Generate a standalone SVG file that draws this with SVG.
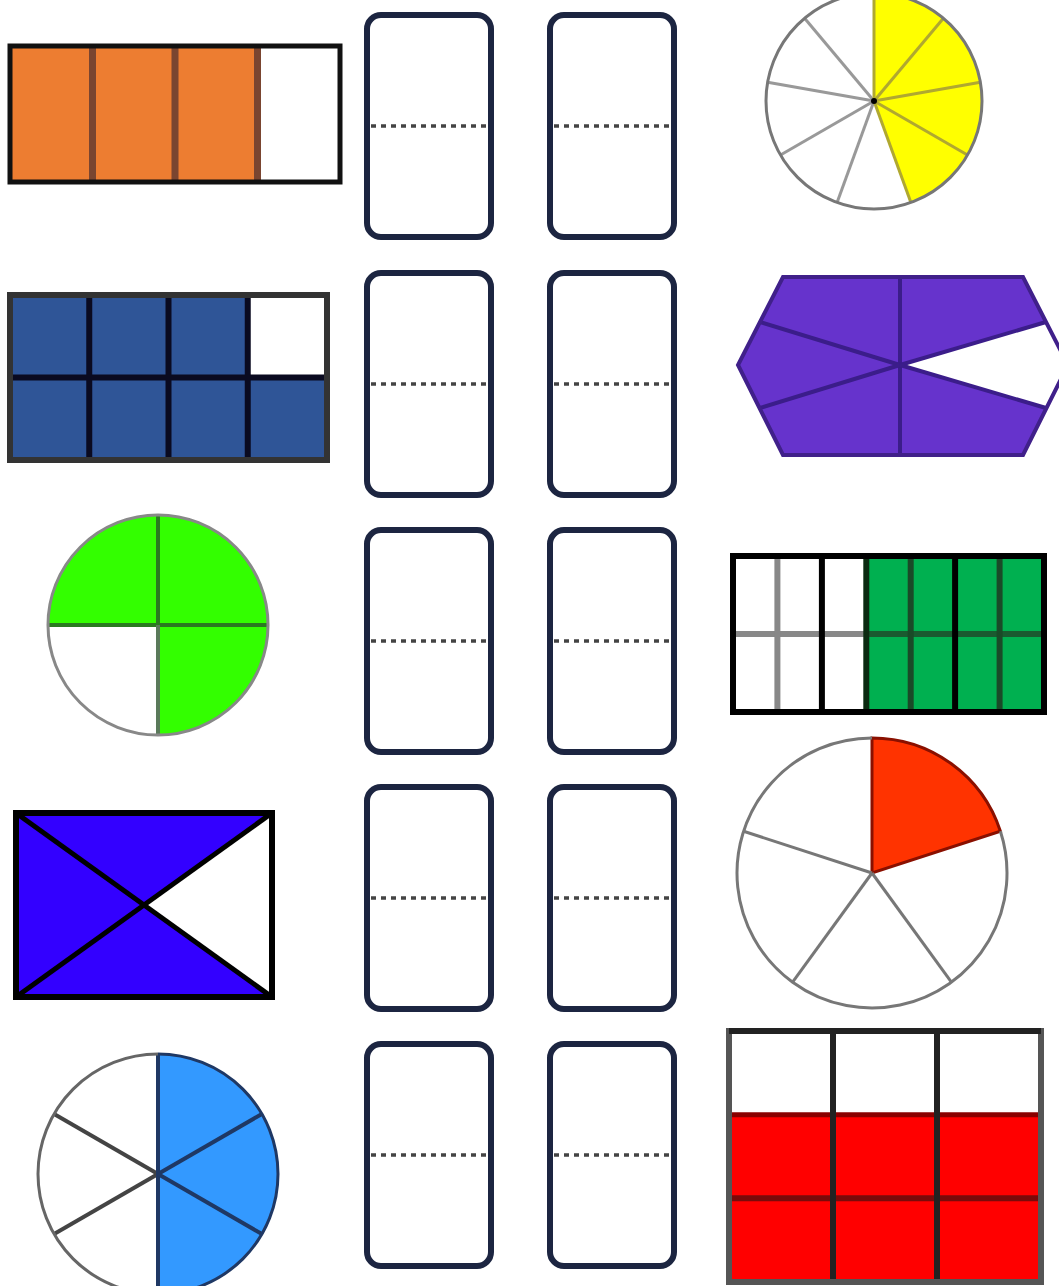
<svg xmlns="http://www.w3.org/2000/svg" width="1059" height="1286" viewBox="0 0 1059 1286">
<style>
.dom{fill:#fff;stroke:#1c2541;stroke-width:6}
.dot{stroke:#444;stroke-width:3.5;stroke-dasharray:5 5}
.gl{stroke:#777;stroke-width:3;fill:none}
</style>
<rect width="1059" height="1286" fill="#fff"/>
<defs>
<g id="domino">
<rect class="dom" x="0" y="0" width="124" height="222" rx="14"/>
<line class="dot" x1="4" y1="111" x2="120" y2="111"/>
</g>
</defs>

<!-- Row 1 -->
<g id="orange-bar">
<rect x="10" y="46" width="330" height="136" fill="#fff"/>
<rect x="10" y="46" width="247.5" height="136" fill="#ED7D31"/>
<g stroke="#7a4530" stroke-width="7">
<line x1="92.5" y1="48" x2="92.5" y2="180"/>
<line x1="175" y1="48" x2="175" y2="180"/>
<line x1="257.5" y1="48" x2="257.5" y2="180"/>
</g>
<rect x="10" y="46" width="330" height="136" fill="none" stroke="#111" stroke-width="5"/>
</g>

<g id="yellow-circle">
<circle cx="874" cy="101" r="108" fill="#fff"/>
<path d="M874,101 L874,-7 A108,108 0 0,1 910.9,202.5 Z" fill="#FFFF00"/>
<g stroke="#999" stroke-width="3">
<line x1="874" y1="101" x2="837.1" y2="202.5"/>
<line x1="874" y1="101" x2="780.5" y2="155"/>
<line x1="874" y1="101" x2="767.6" y2="82.3"/>
<line x1="874" y1="101" x2="804.6" y2="18.3"/>
</g>
<g stroke="#b0a830" stroke-width="3">
<line x1="874" y1="101" x2="874" y2="-7"/>
<line x1="874" y1="101" x2="943.4" y2="18.3"/>
<line x1="874" y1="101" x2="980.4" y2="82.3"/>
<line x1="874" y1="101" x2="967.5" y2="155"/>
<line x1="874" y1="101" x2="910.9" y2="202.5"/>
</g>
<circle cx="874" cy="101" r="108" class="gl"/>
<circle cx="874" cy="101" r="3" fill="#000"/>
</g>

<!-- Row 2 -->
<g id="blue-grid">
<rect x="10" y="295" width="317" height="165" fill="#2F5597"/>
<rect x="247.75" y="295" width="79.25" height="82.5" fill="#fff"/>
<g stroke="#0a0a20" stroke-width="6">
<line x1="89.25" y1="295" x2="89.25" y2="460"/>
<line x1="168.5" y1="295" x2="168.5" y2="460"/>
<line x1="247.75" y1="295" x2="247.75" y2="460"/>
<line x1="10" y1="377.5" x2="327" y2="377.5"/>
</g>
<rect x="10" y="295" width="317" height="165" fill="none" stroke="#333" stroke-width="6"/>
</g>

<g id="purple-hexagon">
<polygon points="783,277 1023,277 1068,365 1023,455 783,455 738,365" fill="#6633CC"/>
<polygon points="900,365 1046,322 1068,365 1046,408" fill="#fff"/>
<g stroke="#3b1d8a" stroke-width="4">
<line x1="900" y1="277" x2="900" y2="455"/>
<line x1="900" y1="365" x2="760" y2="322"/>
<line x1="900" y1="365" x2="760" y2="408"/>
<line x1="900" y1="365" x2="1046" y2="322"/>
<line x1="900" y1="365" x2="1046" y2="408"/>
</g>
<polygon points="783,277 1023,277 1068,365 1023,455 783,455 738,365" fill="none" stroke="#40208a" stroke-width="4"/>
</g>

<!-- Row 3 -->
<g id="green-circle">
<circle cx="158" cy="625" r="110" fill="#fff"/>
<path d="M158,625 L48,625 A110,110 0 1,1 158,735 Z" fill="#33FF00"/>
<g stroke="#2a7a20" stroke-width="4">
<line x1="158" y1="515" x2="158" y2="625"/>
<line x1="48" y1="625" x2="268" y2="625"/>
</g>
<line x1="158" y1="625" x2="158" y2="735" stroke="#5a7a5a" stroke-width="4"/>
<circle cx="158" cy="625" r="110" fill="none" stroke="#888" stroke-width="3"/>
</g>

<g id="green-grid">
<rect x="733" y="556" width="311" height="156" fill="#fff"/>
<rect x="866.3" y="556" width="177.7" height="156" fill="#00B050"/>
<line x1="733" y1="634" x2="866.3" y2="634" stroke="#888" stroke-width="6"/>
<line x1="866.3" y1="634" x2="1044" y2="634" stroke="#1a5a30" stroke-width="6"/>
<line x1="777.4" y1="556" x2="777.4" y2="712" stroke="#888" stroke-width="6"/>
<line x1="821.9" y1="556" x2="821.9" y2="712" stroke="#000" stroke-width="6"/>
<line x1="866.3" y1="556" x2="866.3" y2="712" stroke="#0a2a10" stroke-width="6"/>
<line x1="910.7" y1="556" x2="910.7" y2="712" stroke="#1a4a28" stroke-width="6"/>
<line x1="955.1" y1="556" x2="955.1" y2="712" stroke="#000" stroke-width="6"/>
<line x1="999.6" y1="556" x2="999.6" y2="712" stroke="#1a4a28" stroke-width="6"/>
<rect x="733" y="556" width="311" height="156" fill="none" stroke="#000" stroke-width="6"/>
</g>

<!-- Row 4 -->
<g id="blue-triangles">
<rect x="16" y="813" width="256" height="184" fill="#3300FF"/>
<polygon points="144,905 272,813 272,997" fill="#fff"/>
<g stroke="#000" stroke-width="5">
<line x1="16" y1="813" x2="272" y2="997"/>
<line x1="16" y1="997" x2="272" y2="813"/>
</g>
<rect x="16" y="813" width="256" height="184" fill="none" stroke="#000" stroke-width="6"/>
</g>

<g id="red-pie">
<circle cx="872" cy="873" r="135" fill="#fff"/>
<path d="M872,873 L872,738 A135,135 0 0,1 1000.4,831.3 Z" fill="#FF3300" stroke="#8a1000" stroke-width="3"/>
<g stroke="#777" stroke-width="3">
<line x1="872" y1="873" x2="951.4" y2="982.2"/>
<line x1="872" y1="873" x2="792.6" y2="982.2"/>
<line x1="872" y1="873" x2="743.6" y2="831.3"/>
</g>
<path d="M872,738 A135,135 0 1,0 1000.4,831.3" class="gl"/>
</g>

<!-- Row 5 -->
<g id="blue-pie">
<circle cx="158" cy="1174" r="120" fill="#fff"/>
<path d="M158,1174 L158,1054 A120,120 0 0,1 158,1294 Z" fill="#3399FF"/>
<g stroke="#444" stroke-width="4">
<line x1="158" y1="1174" x2="54.1" y2="1234"/>
<line x1="158" y1="1174" x2="54.1" y2="1114"/>
</g>
<g stroke="#1f3864" stroke-width="4">
<line x1="158" y1="1054" x2="158" y2="1294"/>
<line x1="158" y1="1174" x2="261.9" y2="1114"/>
<line x1="158" y1="1174" x2="261.9" y2="1234"/>
</g>
<path d="M158,1054 A120,120 0 0,0 158,1294" fill="none" stroke="#666" stroke-width="3"/>
<path d="M158,1054 A120,120 0 0,1 158,1294" fill="none" stroke="#1f3864" stroke-width="3"/>
</g>

<g id="red-grid">
<rect x="729" y="1031" width="312" height="251" fill="#fff"/>
<rect x="729" y="1114.7" width="312" height="167.3" fill="#FF0000"/>
<line x1="729" y1="1114.7" x2="1041" y2="1114.7" stroke="#8a0000" stroke-width="5"/>
<line x1="729" y1="1198.3" x2="1041" y2="1198.3" stroke="#7a0a0a" stroke-width="6"/>
<g stroke="#222" stroke-width="6">
<line x1="833" y1="1031" x2="833" y2="1282"/>
<line x1="937" y1="1031" x2="937" y2="1282"/>
</g>
<rect x="729" y="1031" width="312" height="251" fill="none" stroke="#555" stroke-width="6"/>
<line x1="729" y1="1031" x2="1041" y2="1031" stroke="#222" stroke-width="6"/>
</g>

<!-- Dominoes -->
<g id="domino-1a" transform="translate(367,15)"><use href="#domino"/></g>
<g id="domino-1b" transform="translate(550,15)"><use href="#domino"/></g>
<g id="domino-2a" transform="translate(367,273)"><use href="#domino"/></g>
<g id="domino-2b" transform="translate(550,273)"><use href="#domino"/></g>
<g id="domino-3a" transform="translate(367,530)"><use href="#domino"/></g>
<g id="domino-3b" transform="translate(550,530)"><use href="#domino"/></g>
<g id="domino-4a" transform="translate(367,787)"><use href="#domino"/></g>
<g id="domino-4b" transform="translate(550,787)"><use href="#domino"/></g>
<g id="domino-5a" transform="translate(367,1044)"><use href="#domino"/></g>
<g id="domino-5b" transform="translate(550,1044)"><use href="#domino"/></g>
</svg>
